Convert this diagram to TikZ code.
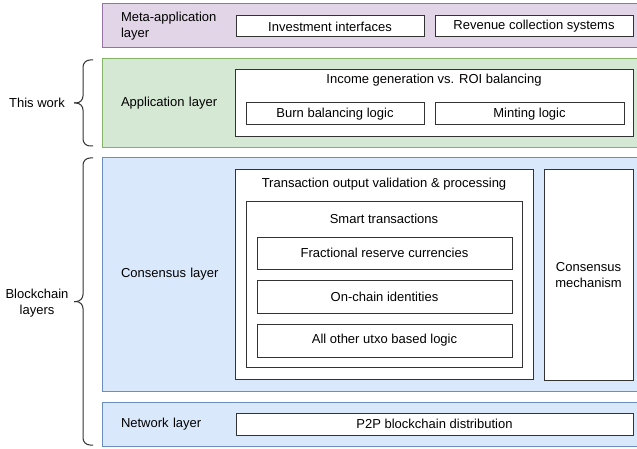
\documentclass[tikz,border=0pt]{standalone}
\usepackage{fontspec}
\setmainfont{Liberation Sans}
\usetikzlibrary{positioning}
\definecolor{metafill}{HTML}{E1D5E7}
\definecolor{metaline}{HTML}{9673A6}
\definecolor{appfill}{HTML}{D5E8D4}
\definecolor{appline}{HTML}{82B366}
\definecolor{chainfill}{HTML}{DAE8FC}
\definecolor{chainline}{HTML}{6C8EBF}
\definecolor{dark}{HTML}{333333}

\begin{document}
\begin{tikzpicture}[x=1pt,y=-1pt,font=\fontsize{13}{15.6}\selectfont,
 layer/.style={draw=#1line,fill=#1fill,line width=1pt,text width=498.5pt,inner xsep=19pt,inner ysep=0pt,align=left},
 box/.style={draw=dark,fill=white,line width=1pt,inner sep=0pt,align=center},
 curly/.style={draw=dark,line width=1pt,rounded corners=7pt},
 side/.style={inner sep=0pt,align=center}]
\useasboundingbox (0,0) rectangle (637,449);
\node[layer=meta,minimum height=44pt] (meta) at (370.25,26) {Meta-application\\layer};
\node[layer=app,minimum height=89pt] (app) at (370.25,103.5) {Application layer};
\node[layer=chain,minimum height=233pt] (cons) at (370.25,274.5) {Consensus layer};
\node[layer=chain,minimum height=44pt] (net) at (370.25,424) {Network layer};
\node[box,minimum width=188pt,minimum height=21pt] (inv) at (330,26.5) {Investment interfaces};
\node[box,minimum width=198pt,minimum height=21pt] (rev) at (534,26.5) {Revenue collection systems};
\node[box,minimum width=398pt,minimum height=67pt] (inc) at (434,103.5) {};
\node[side,below=4pt of inc.north] (inctitle) {Income generation vs. ROI balancing};
\node[box,minimum width=178pt,minimum height=22pt] (burn) at (335,114) {Burn balancing logic};
\node[box,minimum width=189pt,minimum height=22pt] (mint) at (529.5,114) {Minting logic};
\node[box,minimum width=298pt,minimum height=209pt] (tx) at (384,274.5) {};
\node[side,below=8pt of tx.north] (txtitle) {Transaction output validation \& processing};
\node[box,minimum width=276pt,minimum height=165pt] (smart) at (384,284.5) {};
\node[side,below=12pt of smart.north] (smarttitle) {Smart transactions};
\node[box,minimum width=255pt,minimum height=32pt] (frac) at (384.5,253) {Fractional reserve currencies};
\node[box,minimum width=255pt,minimum height=33pt] (chainid) at (384.5,296.5) {On-chain identities};
\node[box,minimum width=255pt,minimum height=33pt] (other) at (384.5,340.5) {All other utxo based logic};
\node[box,minimum width=89pt,minimum height=210pt] (mech) at (588.5,275) {Consensus\\mechanism};
\node[box,minimum width=397pt,minimum height=22pt] (p2p) at (434.5,424) {P2P blockchain distribution};
\draw[curly] (93,60) -- (83,60) -- (83,103) -- (74,103);
\draw[curly] (93,146) -- (83,146) -- (83,103) -- (74,103);
\draw[curly] (93,158) -- (83,158) -- (83,301.5) -- (74,301.5);
\draw[curly] (93,445) -- (83,445) -- (83,301.5) -- (74,301.5);
\node[side,anchor=east] (thiswork) at (65,103) {This work};
\node[side] (blockchain) at (37,303) {Blockchain\\layers};
\end{tikzpicture}
\end{document}
